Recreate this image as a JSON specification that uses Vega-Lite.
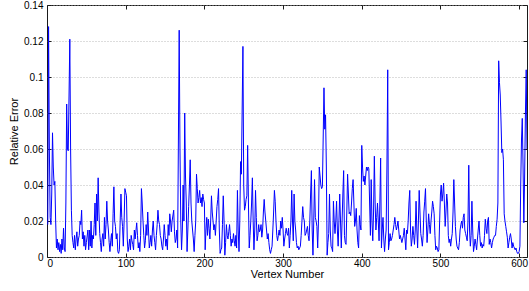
{
  "$schema": "https://vega.github.io/schema/vega-lite/v6.json",
  "width": 480,
  "height": 252,
  "autosize": {"type": "none"},
  "padding": {"left": 47, "top": 5, "right": 2, "bottom": 34},
  "background": "white",
  "config": {
    "view": {"stroke": "#1a1a1a", "strokeWidth": 1},
    "font": "Liberation Sans",
    "axis": {
      "labelFont": "Liberation Sans",
      "titleFont": "Liberation Sans",
      "labelFontSize": 10,
      "titleFontSize": 11,
      "titleFontWeight": "normal",
      "labelColor": "#000",
      "titleColor": "#000",
      "domain": false,
      "tickColor": "#1a1a1a",
      "tickSize": -4
    }
  },
  "data": {"values": [
    {"v":1,"e":0.018},{"v":2,"e":0.128},{"v":3,"e":0.06},{"v":4,"e":0.022},{"v":5,"e":0.018},{"v":6,"e":0.035},{"v":7,"e":0.069},{"v":8,"e":0.05},{"v":9,"e":0.04},{"v":10,"e":0.042},
    {"v":11,"e":0.02},{"v":12,"e":0.005},{"v":13,"e":0.01},{"v":14,"e":0.004},{"v":15,"e":0.008},{"v":16,"e":0.003},{"v":17,"e":0.007},{"v":18,"e":0.002},{"v":19,"e":0.01},{"v":20,"e":0.004},
    {"v":21,"e":0.016},{"v":22,"e":0.005},{"v":23,"e":0.003},{"v":24,"e":0.03},{"v":25,"e":0.085},{"v":26,"e":0.06},{"v":27,"e":0.059},{"v":28,"e":0.09},{"v":29,"e":0.121},{"v":30,"e":0.06},
    {"v":31,"e":0.026},{"v":32,"e":0.012},{"v":33,"e":0.008},{"v":34,"e":0.005},{"v":35,"e":0.012},{"v":36,"e":0.004},{"v":37,"e":0.01},{"v":38,"e":0.014},{"v":39,"e":0.006},{"v":40,"e":0.01},
    {"v":41,"e":0.012},{"v":42,"e":0.02},{"v":43,"e":0.018},{"v":44,"e":0.026},{"v":45,"e":0.01},{"v":46,"e":0.014},{"v":47,"e":0.006},{"v":48,"e":0.012},{"v":49,"e":0.004},{"v":50,"e":0.008},
    {"v":52,"e":0.015},{"v":53,"e":0.004},{"v":54,"e":0.015},{"v":55,"e":0.006},{"v":56,"e":0.02},{"v":57,"e":0.005},{"v":58,"e":0.012},{"v":59,"e":0.01},{"v":60,"e":0.018},
    {"v":61,"e":0.03},{"v":62,"e":0.012},{"v":63,"e":0.035},{"v":64,"e":0.02},{"v":65,"e":0.044},{"v":66,"e":0.025},{"v":67,"e":0.013},{"v":68,"e":0.008},{"v":69,"e":0.003},{"v":70,"e":0.01},
    {"v":71,"e":0.013},{"v":72,"e":0.006},{"v":73,"e":0.022},{"v":74,"e":0.01},{"v":75,"e":0.018},{"v":76,"e":0.031},{"v":77,"e":0.02},{"v":78,"e":0.015},{"v":79,"e":0.008},{"v":80,"e":0.003},
    {"v":81,"e":0.009},{"v":82,"e":0.013},{"v":83,"e":0.006},{"v":84,"e":0.024},{"v":85,"e":0.039},{"v":86,"e":0.02},{"v":87,"e":0.017},{"v":88,"e":0.01},{"v":89,"e":0.013},{"v":90,"e":0.003},
    {"v":91,"e":0.002},{"v":92,"e":0.004},{"v":93,"e":0.02},{"v":94,"e":0.035},{"v":95,"e":0.022},{"v":96,"e":0.017},{"v":97,"e":0.006},{"v":98,"e":0.02},{"v":99,"e":0.038},{"v":100,"e":0.036},
    {"v":101,"e":0.034},{"v":102,"e":0.01},{"v":103,"e":0.003},{"v":104,"e":0.006},{"v":105,"e":0.01},{"v":106,"e":0.004},{"v":107,"e":0.012},{"v":108,"e":0.009},{"v":109,"e":0.007},{"v":110,"e":0.004},
    {"v":111,"e":0.015},{"v":112,"e":0.01},{"v":114,"e":0.019},{"v":115,"e":0.012},{"v":116,"e":0.005},{"v":117,"e":0.008},{"v":118,"e":0.003},{"v":119,"e":0.012},{"v":120,"e":0.038},
    {"v":121,"e":0.03},{"v":122,"e":0.02},{"v":123,"e":0.012},{"v":124,"e":0.005},{"v":125,"e":0.009},{"v":126,"e":0.018},{"v":127,"e":0.012},{"v":128,"e":0.025},{"v":129,"e":0.015},{"v":130,"e":0.005},
    {"v":131,"e":0.008},{"v":132,"e":0.012},{"v":133,"e":0.006},{"v":134,"e":0.015},{"v":135,"e":0.02},{"v":136,"e":0.012},{"v":137,"e":0.008},{"v":138,"e":0.004},{"v":139,"e":0.012},{"v":140,"e":0.018},
    {"v":141,"e":0.026},{"v":142,"e":0.02},{"v":143,"e":0.018},{"v":144,"e":0.012},{"v":145,"e":0.01},{"v":146,"e":0.006},{"v":147,"e":0.004},{"v":148,"e":0.01},{"v":149,"e":0.018},{"v":150,"e":0.012},
    {"v":151,"e":0.006},{"v":152,"e":0.01},{"v":153,"e":0.004},{"v":154,"e":0.018},{"v":155,"e":0.012},{"v":156,"e":0.024},{"v":157,"e":0.02},{"v":158,"e":0.014},{"v":159,"e":0.02},
    {"v":161,"e":0.026},{"v":162,"e":0.014},{"v":163,"e":0.008},{"v":164,"e":0.01},{"v":165,"e":0.015},{"v":166,"e":0.005},{"v":168,"e":0.126},{"v":169,"e":0.06},{"v":170,"e":0.02},
    {"v":171,"e":0.004},{"v":172,"e":0.015},{"v":173,"e":0.04},{"v":174,"e":0.02},{"v":175,"e":0.08},{"v":176,"e":0.045},{"v":177,"e":0.03},{"v":178,"e":0.003},{"v":179,"e":0.015},{"v":180,"e":0.028},
    {"v":181,"e":0.04},{"v":182,"e":0.054},{"v":183,"e":0.03},{"v":184,"e":0.02},{"v":185,"e":0.015},{"v":186,"e":0.01},{"v":187,"e":0.003},{"v":188,"e":0.012},{"v":189,"e":0.02},{"v":190,"e":0.046},
    {"v":191,"e":0.038},{"v":192,"e":0.03},{"v":193,"e":0.033},{"v":194,"e":0.037},{"v":195,"e":0.03},{"v":196,"e":0.033},{"v":197,"e":0.028},{"v":198,"e":0.035},{"v":199,"e":0.032},{"v":200,"e":0.03},
    {"v":201,"e":0.004},{"v":202,"e":0.015},{"v":203,"e":0.022},{"v":204,"e":0.012},{"v":205,"e":0.021},{"v":206,"e":0.016},{"v":207,"e":0.01},{"v":208,"e":0.02},{"v":209,"e":0.034},{"v":210,"e":0.025},
    {"v":211,"e":0.02},{"v":212,"e":0.015},{"v":213,"e":0.018},{"v":214,"e":0.012},{"v":215,"e":0.02},{"v":216,"e":0.028},{"v":217,"e":0.032},{"v":218,"e":0.038},{"v":219,"e":0.015},{"v":220,"e":0.002},
    {"v":221,"e":0.004},{"v":222,"e":0.005},{"v":223,"e":0.018},{"v":224,"e":0.034},{"v":225,"e":0.02},{"v":226,"e":0.001},{"v":227,"e":0.008},{"v":228,"e":0.018},{"v":229,"e":0.012},{"v":230,"e":0.01},
    {"v":231,"e":0.014},{"v":232,"e":0.018},{"v":233,"e":0.012},{"v":234,"e":0.006},{"v":235,"e":0.01},{"v":236,"e":0.008},{"v":237,"e":0.013},{"v":238,"e":0.009},{"v":239,"e":0.006},{"v":240,"e":0.012},
    {"v":241,"e":0.005},{"v":242,"e":0.037},{"v":243,"e":0.015},{"v":244,"e":0.003},{"v":245,"e":0.02},{"v":246,"e":0.053},{"v":247,"e":0.046},{"v":249,"e":0.117},{"v":250,"e":0.04},
    {"v":251,"e":0.026},{"v":252,"e":0.028},{"v":253,"e":0.032},{"v":254,"e":0.034},{"v":255,"e":0.062},{"v":256,"e":0.03},{"v":257,"e":0.005},{"v":258,"e":0.012},{"v":259,"e":0.02},{"v":260,"e":0.03},
    {"v":261,"e":0.044},{"v":262,"e":0.02},{"v":263,"e":0.004},{"v":264,"e":0.015},{"v":265,"e":0.037},{"v":266,"e":0.022},{"v":267,"e":0.009},{"v":268,"e":0.012},{"v":269,"e":0.018},{"v":270,"e":0.014},
    {"v":271,"e":0.015},{"v":272,"e":0.018},{"v":273,"e":0.011},{"v":274,"e":0.015},{"v":275,"e":0.025},{"v":276,"e":0.032},{"v":277,"e":0.025},{"v":278,"e":0.02},{"v":279,"e":0.015},{"v":280,"e":0.01},
    {"v":281,"e":0.013},{"v":282,"e":0.008},{"v":283,"e":0.004},{"v":284,"e":0.002},{"v":285,"e":0.004},{"v":286,"e":0.006},{"v":287,"e":0.015},{"v":288,"e":0.025},{"v":289,"e":0.037},{"v":290,"e":0.031},
    {"v":291,"e":0.02},{"v":292,"e":0.012},{"v":293,"e":0.009},{"v":294,"e":0.012},{"v":295,"e":0.015},{"v":296,"e":0.012},{"v":297,"e":0.02},{"v":298,"e":0.016},{"v":299,"e":0.022},{"v":300,"e":0.015},
    {"v":301,"e":0.006},{"v":302,"e":0.01},{"v":303,"e":0.013},{"v":304,"e":0.016},{"v":305,"e":0.013},{"v":306,"e":0.012},{"v":307,"e":0.016},{"v":308,"e":0.005},{"v":309,"e":0.012},{"v":310,"e":0.02},
    {"v":311,"e":0.037},{"v":312,"e":0.02},{"v":313,"e":0.009},{"v":314,"e":0.035},{"v":315,"e":0.02},{"v":316,"e":0.015},{"v":317,"e":0.008},{"v":318,"e":0.005},{"v":319,"e":0.006},{"v":320,"e":0.004},
    {"v":321,"e":0.005},{"v":322,"e":0.006},{"v":323,"e":0.012},{"v":324,"e":0.02},{"v":325,"e":0.028},{"v":326,"e":0.022},{"v":327,"e":0.02},{"v":328,"e":0.012},{"v":329,"e":0.013},{"v":330,"e":0.015},
    {"v":331,"e":0.017},{"v":332,"e":0.012},{"v":333,"e":0.009},{"v":334,"e":0.02},{"v":335,"e":0.035},{"v":336,"e":0.048},{"v":337,"e":0.015},{"v":338,"e":0.001},{"v":339,"e":0.02},{"v":340,"e":0.043},
    {"v":341,"e":0.022},{"v":342,"e":0.02},{"v":343,"e":0.017},{"v":344,"e":0.005},{"v":345,"e":0.02},{"v":346,"e":0.05},{"v":347,"e":0.045},{"v":348,"e":0.04},{"v":349,"e":0.038},{"v":350,"e":0.039},
    {"v":352,"e":0.094},{"v":353,"e":0.071},{"v":354,"e":0.079},{"v":355,"e":0.05},{"v":356,"e":0.001},{"v":357,"e":0.008},{"v":358,"e":0.013},{"v":359,"e":0.035},{"v":360,"e":0.015},
    {"v":361,"e":0.006},{"v":362,"e":0.005},{"v":363,"e":0.003},{"v":364,"e":0.031},{"v":365,"e":0.02},{"v":366,"e":0.013},{"v":367,"e":0.02},{"v":368,"e":0.031},{"v":369,"e":0.015},{"v":370,"e":0.006},
    {"v":371,"e":0.02},{"v":372,"e":0.035},{"v":373,"e":0.02},{"v":374,"e":0.005},{"v":375,"e":0.02},{"v":376,"e":0.035},{"v":377,"e":0.048},{"v":378,"e":0.012},{"v":379,"e":0.008},{"v":380,"e":0.007},
    {"v":381,"e":0.025},{"v":382,"e":0.046},{"v":383,"e":0.035},{"v":384,"e":0.024},{"v":385,"e":0.025},{"v":386,"e":0.023},{"v":387,"e":0.03},{"v":388,"e":0.038},{"v":389,"e":0.043},{"v":390,"e":0.03},
    {"v":391,"e":0.017},{"v":392,"e":0.02},{"v":393,"e":0.027},{"v":394,"e":0.015},{"v":395,"e":0.008},{"v":396,"e":0.005},{"v":397,"e":0.023},{"v":398,"e":0.018},{"v":399,"e":0.015},{"v":400,"e":0.062},
    {"v":401,"e":0.05},{"v":402,"e":0.042},{"v":403,"e":0.045},{"v":404,"e":0.04},{"v":405,"e":0.045},{"v":406,"e":0.05},{"v":407,"e":0.048},{"v":408,"e":0.05},{"v":409,"e":0.049},{"v":410,"e":0.03},
    {"v":411,"e":0.012},{"v":412,"e":0.043},{"v":413,"e":0.02},{"v":414,"e":0.009},{"v":415,"e":0.025},{"v":416,"e":0.056},{"v":417,"e":0.03},{"v":418,"e":0.015},{"v":419,"e":0.022},{"v":420,"e":0.03},
    {"v":421,"e":0.02},{"v":422,"e":0.009},{"v":423,"e":0.03},{"v":424,"e":0.055},{"v":425,"e":0.005},{"v":426,"e":0.015},{"v":427,"e":0.022},{"v":428,"e":0.01},{"v":429,"e":0.003},{"v":430,"e":0.01},
    {"v":431,"e":0.015},{"v":432,"e":0.05},{"v":433,"e":0.104},{"v":434,"e":0.004},{"v":435,"e":0.008},{"v":436,"e":0.013},{"v":437,"e":0.009},{"v":438,"e":0.01},{"v":439,"e":0.012},{"v":440,"e":0.015},
    {"v":441,"e":0.018},{"v":442,"e":0.022},{"v":443,"e":0.018},{"v":444,"e":0.015},{"v":445,"e":0.017},{"v":446,"e":0.02},{"v":447,"e":0.015},{"v":448,"e":0.01},{"v":449,"e":0.012},{"v":450,"e":0.01},
    {"v":451,"e":0.008},{"v":452,"e":0.01},{"v":453,"e":0.012},{"v":454,"e":0.016},{"v":455,"e":0.01},{"v":456,"e":0.004},{"v":457,"e":0.015},{"v":458,"e":0.013},{"v":459,"e":0.02},{"v":460,"e":0.03},
    {"v":461,"e":0.037},{"v":462,"e":0.015},{"v":463,"e":0.006},{"v":464,"e":0.01},{"v":465,"e":0.017},{"v":466,"e":0.012},{"v":467,"e":0.007},{"v":468,"e":0.015},{"v":469,"e":0.031},{"v":470,"e":0.015},
    {"v":471,"e":0.005},{"v":472,"e":0.02},{"v":473,"e":0.037},{"v":474,"e":0.025},{"v":475,"e":0.013},{"v":476,"e":0.01},{"v":477,"e":0.006},{"v":478,"e":0.012},{"v":479,"e":0.025},{"v":480,"e":0.031},
    {"v":481,"e":0.038},{"v":482,"e":0.02},{"v":483,"e":0.008},{"v":484,"e":0.015},{"v":485,"e":0.024},{"v":486,"e":0.018},{"v":487,"e":0.013},{"v":488,"e":0.02},{"v":489,"e":0.025},{"v":490,"e":0.031},
    {"v":491,"e":0.028},{"v":492,"e":0.024},{"v":493,"e":0.012},{"v":494,"e":0.004},{"v":495,"e":0.006},{"v":496,"e":0.005},{"v":497,"e":0.003},{"v":498,"e":0.004},{"v":499,"e":0.02},{"v":500,"e":0.035},
    {"v":501,"e":0.04},{"v":502,"e":0.031},{"v":503,"e":0.035},{"v":504,"e":0.041},{"v":505,"e":0.03},{"v":506,"e":0.017},{"v":507,"e":0.025},{"v":508,"e":0.035},{"v":509,"e":0.03},{"v":510,"e":0.012},
    {"v":511,"e":0.008},{"v":512,"e":0.01},{"v":513,"e":0.006},{"v":514,"e":0.01},{"v":515,"e":0.013},{"v":516,"e":0.025},{"v":517,"e":0.043},{"v":518,"e":0.03},{"v":519,"e":0.017},{"v":520,"e":0.01},
    {"v":521,"e":0.006},{"v":522,"e":0.005},{"v":523,"e":0.004},{"v":524,"e":0.008},{"v":525,"e":0.015},{"v":526,"e":0.018},{"v":527,"e":0.02},{"v":528,"e":0.016},{"v":529,"e":0.022},{"v":530,"e":0.024},
    {"v":531,"e":0.015},{"v":532,"e":0.013},{"v":533,"e":0.011},{"v":534,"e":0.009},{"v":535,"e":0.02},{"v":536,"e":0.051},{"v":537,"e":0.015},{"v":538,"e":0.006},{"v":539,"e":0.012},{"v":540,"e":0.031},
    {"v":541,"e":0.015},{"v":542,"e":0.003},{"v":543,"e":0.006},{"v":544,"e":0.01},{"v":545,"e":0.007},{"v":546,"e":0.004},{"v":547,"e":0.01},{"v":548,"e":0.015},{"v":549,"e":0.02},{"v":550,"e":0.012},
    {"v":551,"e":0.006},{"v":552,"e":0.008},{"v":553,"e":0.005},{"v":554,"e":0.007},{"v":555,"e":0.006},{"v":556,"e":0.012},{"v":557,"e":0.021},{"v":558,"e":0.016},{"v":559,"e":0.013},{"v":560,"e":0.02},
    {"v":561,"e":0.022},{"v":562,"e":0.007},{"v":563,"e":0.01},{"v":564,"e":0.008},{"v":565,"e":0.005},{"v":566,"e":0.008},{"v":567,"e":0.01},{"v":568,"e":0.011},{"v":569,"e":0.012},{"v":570,"e":0.012},
    {"v":571,"e":0.017},{"v":572,"e":0.021},{"v":573,"e":0.03},{"v":574,"e":0.109},{"v":575,"e":0.097},{"v":576,"e":0.09},{"v":577,"e":0.075},{"v":578,"e":0.058},{"v":579,"e":0.06},{"v":580,"e":0.054},
    {"v":581,"e":0.024},{"v":582,"e":0.02},{"v":583,"e":0.017},{"v":584,"e":0.014},{"v":585,"e":0.011},{"v":586,"e":0.005},{"v":587,"e":0.008},{"v":588,"e":0.011},{"v":589,"e":0.013},{"v":590,"e":0.01},
    {"v":591,"e":0.005},{"v":592,"e":0.008},{"v":593,"e":0.006},{"v":594,"e":0.005},{"v":595,"e":0.004},{"v":596,"e":0.005},{"v":597,"e":0.003},{"v":598,"e":0.002},{"v":599,"e":0.002},{"v":600,"e":0.003},
    {"v":601,"e":0.006},{"v":602,"e":0.04},{"v":603,"e":0.065},{"v":604,"e":0.077},{"v":605,"e":0.05},{"v":606,"e":0.019},{"v":607,"e":0.045},{"v":608,"e":0.08},{"v":609,"e":0.104},{"v":610,"e":0.06}
  ]},
  "layer": [
    {
      "mark": {"type": "line", "color": "#0000ff", "strokeWidth": 1, "clip": true},
      "encoding": {
        "x": {"field": "v", "type": "quantitative", "scale": {"domain": [0, 610], "nice": false, "zero": false},
              "axis": {"title": "Vertex Number", "values": [0,100,200,300,400,500,600], "grid": false, "labelPadding": 5, "titlePadding": 0, "format": "d"}},
        "y": {"field": "e", "type": "quantitative", "scale": {"domain": [0, 0.14], "nice": false},
              "axis": {"title": "Relative Error", "values": [0,0.02,0.04,0.06,0.08,0.1,0.12,0.14], "format": "~g", "grid": true, "gridColor": "#a8a8a8", "gridDash": [1,2], "gridWidth": 0.8, "labelPadding": 8, "titlePadding": 4}}
      }
    },
    {
      "mark": {"type": "line", "strokeOpacity": 0},
      "encoding": {
        "x": {"field": "v", "type": "quantitative", "axis": {"orient": "top", "title": null, "labels": false, "grid": false, "values": [0,100,200,300,400,500,600]}},
        "y": {"field": "e", "type": "quantitative", "axis": {"orient": "right", "title": null, "labels": false, "grid": false, "values": [0,0.02,0.04,0.06,0.08,0.1,0.12,0.14]}}
      }
    }
  ],
  "resolve": {"axis": {"x": "independent", "y": "independent"}}
}
